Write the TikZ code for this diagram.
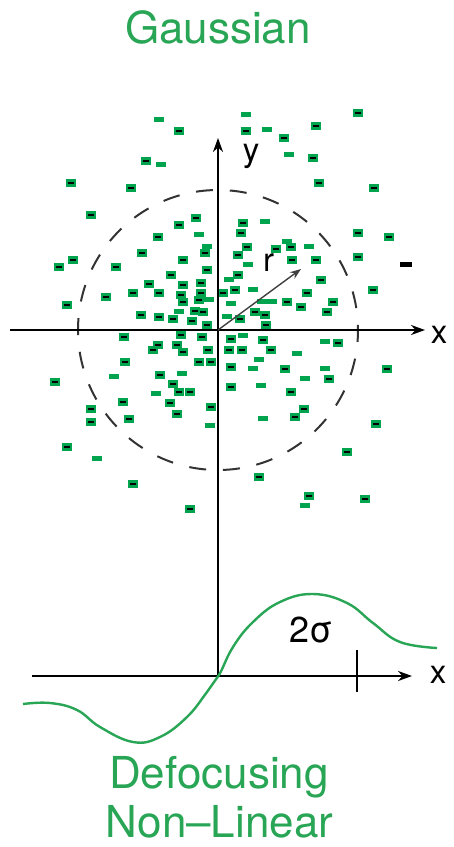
\documentclass[tikz,border=0pt]{standalone}
\usepackage{fontspec}
\setmainfont{TeX Gyre Heros}
\usetikzlibrary{arrows.meta}
\definecolor{dotgreen}{RGB}{0,163,78}
\definecolor{textgreen}{RGB}{40,165,85}

\begin{document}
\begin{tikzpicture}[
  x=1pt, y=-1pt,
  axis/.style={line width=2.2pt, -{Stealth[length=14pt,width=10pt]}},
  lbl/.style={font=\fontsize{33}{33}\selectfont, anchor=base, inner sep=0pt},
  title/.style={font=\fontsize{44}{44}\selectfont, text=textgreen, anchor=base, inner sep=0pt}
]
\useasboundingbox (0,0) rectangle (454,847);

% scattered points, dark centre
\foreach \x/\y in {179/131,246/131,284/138,316/126,358/113,313/158,146/161,71/183,131/188,
  319/183,374/188,91/215,196/218,179/225,243/223,241/233,158/237,358/233,389/237,
  247/247,291/247,276/249,142/253,205/253,238/255,73/260,59/267,116/267,183/260,
  292/260,316/260,358/257,207/270,171/275,238/275,321/280,149/284,183/285,201/283,
  133/293,159/293,181/295,201/293,223/293,235/290,307/293,373/290,106/297,183/302,
  199/300,287/302,67/305,301/307,333/302,327/312,141/315,159/317,173/319,195/311,
  203/312,192/321,207/325,240/319,255/312,265/315,266/325,124/337,181/335,202/337,
  231/339,263/340,338/343,158/345,153/350,177/345,183/352,208/350,229/350,242/350,
  271/350,125/362,199/362,211/362,231/367,285/369,387/369,55/382,160/375,329/379,
  173/384,231/387,291/392,179/392,190/392,123/402,170/403,91/409,211/407,304/409,
  177/414,129/419,91/422,295/417,376/424,67/447,347/452,259/477,133/484,309/496,
  365/499,190/509} {
  \fill[dotgreen] (\x-5.4,\y-3.8) rectangle (\x+5.4,\y+3.8);
  \fill[black] (\x-3,\y-1.2) rectangle (\x+3,\y+1.2);
}
% scattered points, plain
\foreach \x/\y in {159/119,246/114,267/129,289/154,161/164,265/221,199/234,287/241,309/246,
  207/246,248/264,229/279,253/289,209/299,262/301,272/301,231/303,179/311,227/316,
  243/335,325/341,297/353,259/359,253/368,325/368,114/376,182/373,305/378,261/385,
  156/393,263/418,210/425,97/458,305/505}
  \fill[dotgreen] (\x-4.8,\y-2.5) rectangle (\x+4.8,\y+2.5);
\fill (400,262) rectangle (412,266.5);

\coordinate (O) at (218,330);
\coordinate (xl) at (10,330);
\coordinate (xr) at (425,330);
\coordinate (yb) at (218,676);
\coordinate (yt) at (218,138);
\coordinate (bl) at (32,676);
\coordinate (br) at (412,676);
\coordinate (rt) at (301,269);
\coordinate (tka) at (357,650);
\coordinate (tkb) at (357,692);

\draw[line width=2pt, black!80, dash pattern=on 17pt off 16.83pt, dash phase=5pt] (O) circle (140);
\draw[axis] (xl) -- (xr);
\draw[axis] (yb) -- (yt);
\draw[axis] (bl) -- (br);
\draw[line width=2pt] (tka) -- (tkb);
\draw[line width=1.4pt, black!75, -{Stealth[length=11pt,width=8pt]}] (O) -- (rt);

\draw[textgreen, line width=2.4pt] plot[smooth, tension=0.7] coordinates {
  (23,704) (50,703) (77,710) (100,727) (133,742) (160,737) (187,717) (207,692)
  (219,675) (233,647) (253,622) (280,602) (313,594) (347,603) (373,623) (400,642) (437,648)};

\node[title] (gauss) at (218,43) {Gaussian};
\node[title] (defoc) at (219,788) {Defocusing};
\node[title] (nonlin) at (219.5,837) {Non–Linear};
\node[lbl] (ylab) at (251,161) {y};
\node[lbl, anchor=base west] (rlab) at (263,271) {r};
\node[lbl] (xtop) at (439,343) {x};
\node[lbl] (xbot) at (438,683) {x};
\node[lbl, anchor=base west, font=\fontsize{36}{36}\selectfont] (sig) at (289,642) {2σ};
\end{tikzpicture}
\end{document}
